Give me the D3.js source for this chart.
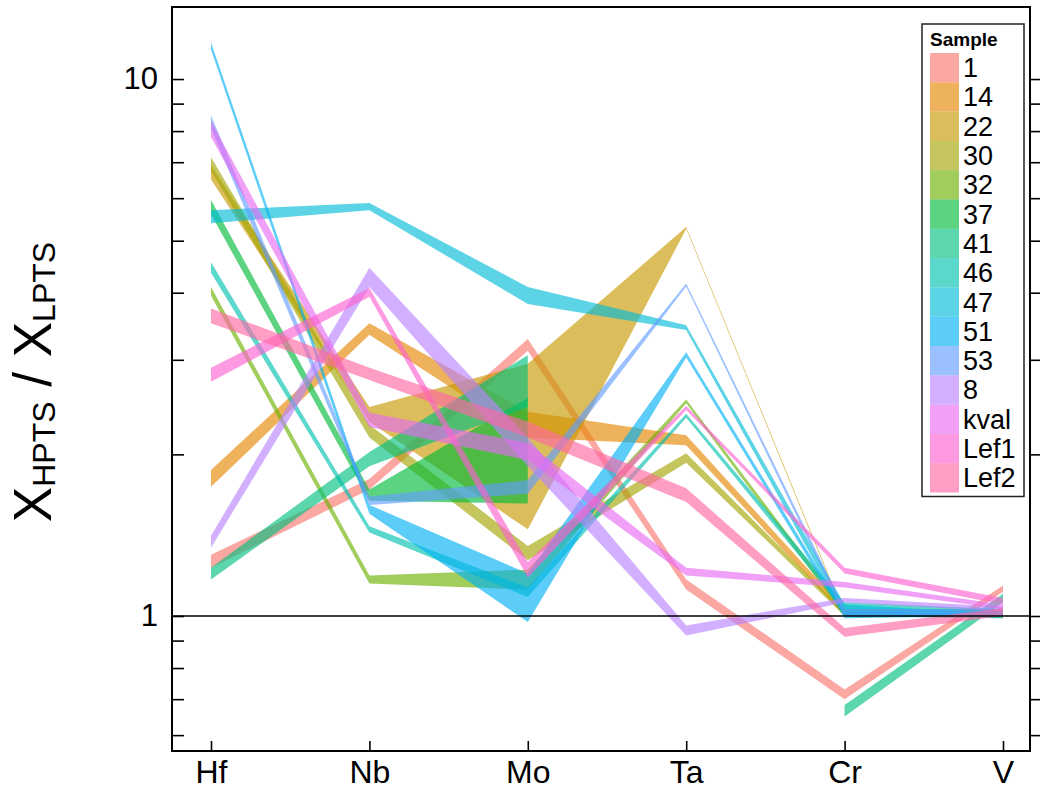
<!DOCTYPE html>
<html>
<head>
<meta charset="utf-8">
<script src="https://cdn.jsdelivr.net/npm/d3@7"></script>
<style>
  html, body { margin: 0; padding: 0; background: #ffffff; }
  svg { display: block; font-family: "Liberation Sans", Arial, Helvetica, sans-serif; }
</style>
</head>
<body>
<svg id="chart" width="1042" height="796"></svg>
<script>
// ---- data ----
const categories = ["Hf", "Nb", "Mo", "Ta", "Cr", "V"];
const samples = ["1", "14", "22", "30", "32", "37", "41", "46", "47", "51", "53", "8", "kval", "Lef1", "Lef2"];
const sampleColors = ["#F8766D", "#E58700", "#C99800", "#A3A500", "#6BB100", "#00BA38", "#00BF7D",
  "#00C0AF", "#00BCD8", "#00B0F6", "#619CFF", "#B983FF", "#E76BF3", "#FD61D1", "#FF67A4"];
// lower edge of each sample's ribbon (Hf, Nb, Mo, Ta, Cr, V)
const ratioLow = [
  [1.23, 1.72, 3.12, 1.12, 0.70, 1.11],
  [1.74, 3.34, 2.15, 2.08, 1.00, 1.00],
  [6.50, 2.30, 1.45, 5.26, 1.00, 1.00],
  [6.75, 2.15, 1.27, 1.93, 1.00, 1.00],
  [3.95, 1.15, 1.12, 2.49, 1.00, 0.99],
  [5.60, 1.64, 1.62, null, 1.00, 1.00],
  [1.17, 1.90, 2.45, null, 0.65, 1.06],
  [4.36, 1.43, 1.085, 2.34, 1.02, 1.00],
  [5.39, 5.70, 3.81, 3.41, 1.00, 0.99],
  [11.35, 1.55, 0.975, 3.03, 0.99, 1.00],
  [8.10, 1.61, 1.69, 4.11, 1.00, 1.00],
  [1.34, 4.10, 1.90, 0.92, 1.06, 1.02],
  [7.80, 2.25, 1.95, 1.19, 1.13, 1.03],
  [2.73, 3.93, 1.18, 2.42, 1.20, 1.05],
  [3.51, 2.75, 2.15, 1.63, 0.915, 1.00]
];
// upper edge of each sample's ribbon
const ratioHigh = [
  [1.30, 1.80, 3.28, 1.17, 0.73, 1.14],
  [1.87, 3.51, 2.40, 2.17, 1.03, 1.02],
  [6.90, 2.45, 2.95, 5.30, 1.01, 1.01],
  [7.15, 2.27, 1.35, 2.01, 1.02, 1.02],
  [4.10, 1.19, 1.22, 2.53, 1.03, 1.02],
  [5.95, 1.72, 2.55, null, 1.03, 1.03],
  [1.23, 2.02, 3.06, null, 0.683, 1.10],
  [4.56, 1.47, 1.13, 2.38, 1.06, 1.03],
  [5.70, 5.88, 4.10, 3.48, 1.05, 1.01],
  [11.70, 1.61, 1.20, 3.10, 1.02, 1.02],
  [8.55, 1.67, 1.79, 4.16, 1.03, 1.03],
  [1.41, 4.45, 2.15, 0.96, 1.08, 1.04],
  [8.35, 2.39, 2.10, 1.23, 1.157, 1.05],
  [2.90, 4.08, 1.26, 2.46, 1.23, 1.08],
  [3.74, 2.90, 2.30, 1.73, 0.95, 1.035]
];
const yTickValues = [0.6, 0.7, 0.8, 0.9, 1, 2, 3, 4, 5, 6, 7, 8, 9, 10];
const yTickLabels = { 1: "1", 10: "10" };

// ---- layout ----
const svg = d3.select("#chart");
const frame = { left: 172, right: 1030, top: 7, bottom: 751 };
const x = d3.scalePoint().domain(categories).range([211, 1003]);
const y = d3.scaleLog().domain([0.5605, 13.62]).range([frame.bottom, frame.top]);
const color = d3.scaleOrdinal().domain(samples).range(sampleColors);
const ribbonAlpha = 0.64;

svg.append("rect").attr("width", 1042).attr("height", 796).attr("fill", "#fff");

svg.append("defs").append("clipPath").attr("id", "plotclip")
  .append("rect").attr("x", frame.left).attr("y", frame.top)
  .attr("width", frame.right - frame.left).attr("height", frame.bottom - frame.top);

// ribbons
const rows = samples.map((s, i) => ({
  sample: s,
  pts: categories.map((c, j) => ({ cat: c, lo: ratioLow[i][j], hi: ratioHigh[i][j] }))
}));
const area = d3.area()
  .defined(d => d.lo != null && d.hi != null)
  .x(d => x(d.cat))
  .y0(d => y(d.lo))
  .y1(d => y(d.hi));

const g = svg.append("g").attr("clip-path", "url(#plotclip)");
g.selectAll("path.ribbon").data(rows).join("path")
  .attr("class", "ribbon")
  .attr("d", d => area(d.pts))
  .attr("fill", d => color(d.sample))
  .attr("fill-opacity", ribbonAlpha)
  .attr("stroke", "none");

// reference line at 1
svg.append("line")
  .attr("x1", frame.left).attr("x2", frame.right)
  .attr("y1", y(1)).attr("y2", y(1))
  .attr("stroke", "#000").attr("stroke-width", 1.5);

// axes
const left = svg.append("g").attr("transform", `translate(${frame.left},0)`)
  .call(d3.axisLeft(y).tickValues(yTickValues).tickSize(-12).tickPadding(14)
    .tickFormat(d => yTickLabels[d] || ""));
left.select(".domain").remove();
left.selectAll(".tick line").attr("stroke", "#000").attr("stroke-width", 1.6);
left.selectAll(".tick text").attr("font-size", 31).attr("fill", "#000")
  .attr("font-family", "Liberation Sans, Arial, sans-serif");

const right = svg.append("g").attr("transform", `translate(${frame.right},0)`)
  .call(d3.axisRight(y).tickValues(yTickValues).tickSize(10).tickFormat(""));
right.select(".domain").remove();
right.selectAll(".tick line").attr("stroke", "#000").attr("stroke-width", 1.6);

const bottom = svg.append("g").attr("transform", `translate(0,${frame.bottom})`)
  .call(d3.axisBottom(x).tickSize(-10).tickPadding(9));
bottom.select(".domain").remove();
bottom.selectAll(".tick line").attr("stroke", "#000").attr("stroke-width", 1.6);
bottom.selectAll(".tick text").attr("font-size", 32).attr("fill", "#000")
  .attr("font-family", "Liberation Sans, Arial, sans-serif");

// frame
svg.append("rect")
  .attr("x", frame.left).attr("y", frame.top)
  .attr("width", frame.right - frame.left).attr("height", frame.bottom - frame.top)
  .attr("fill", "none").attr("stroke", "#000").attr("stroke-width", 2);

// y title
const yt = svg.append("text")
  .attr("transform", "translate(51,382) rotate(-90)")
  .attr("text-anchor", "middle")
  .attr("font-size", 53).attr("fill", "#000");
yt.append("tspan").text("X");
yt.append("tspan").attr("font-size", 32).attr("dy", 4).text("HPTS");
yt.append("tspan").attr("dy", -4).text(" / X");
yt.append("tspan").attr("font-size", 32).attr("dy", 4).text("LPTS");

// legend
const lg = { x: 922, y: 24, w: 102, keyX: 930, keyW: 29, rowTop: 53, rowH: 29.3 };
svg.append("rect")
  .attr("x", lg.x).attr("y", lg.y).attr("width", lg.w)
  .attr("height", lg.rowTop + samples.length * lg.rowH + 4 - lg.y)
  .attr("fill", "#fff").attr("stroke", "#222").attr("stroke-width", 1.5);
svg.append("text").attr("x", 930).attr("y", 46)
  .attr("font-size", 19).attr("font-weight", "bold").attr("fill", "#000").text("Sample");
const items = svg.selectAll("g.item").data(samples).join("g").attr("class", "item")
  .attr("transform", (d, i) => `translate(0,${lg.rowTop + i * lg.rowH})`);
items.append("rect")
  .attr("x", lg.keyX).attr("width", lg.keyW).attr("height", lg.rowH)
  .attr("fill", d => color(d)).attr("fill-opacity", ribbonAlpha);
items.append("text")
  .attr("x", 963).attr("y", lg.rowH / 2 + 9.5)
  .attr("font-size", 27).attr("fill", "#000").text(d => d);
</script>
</body>
</html>
